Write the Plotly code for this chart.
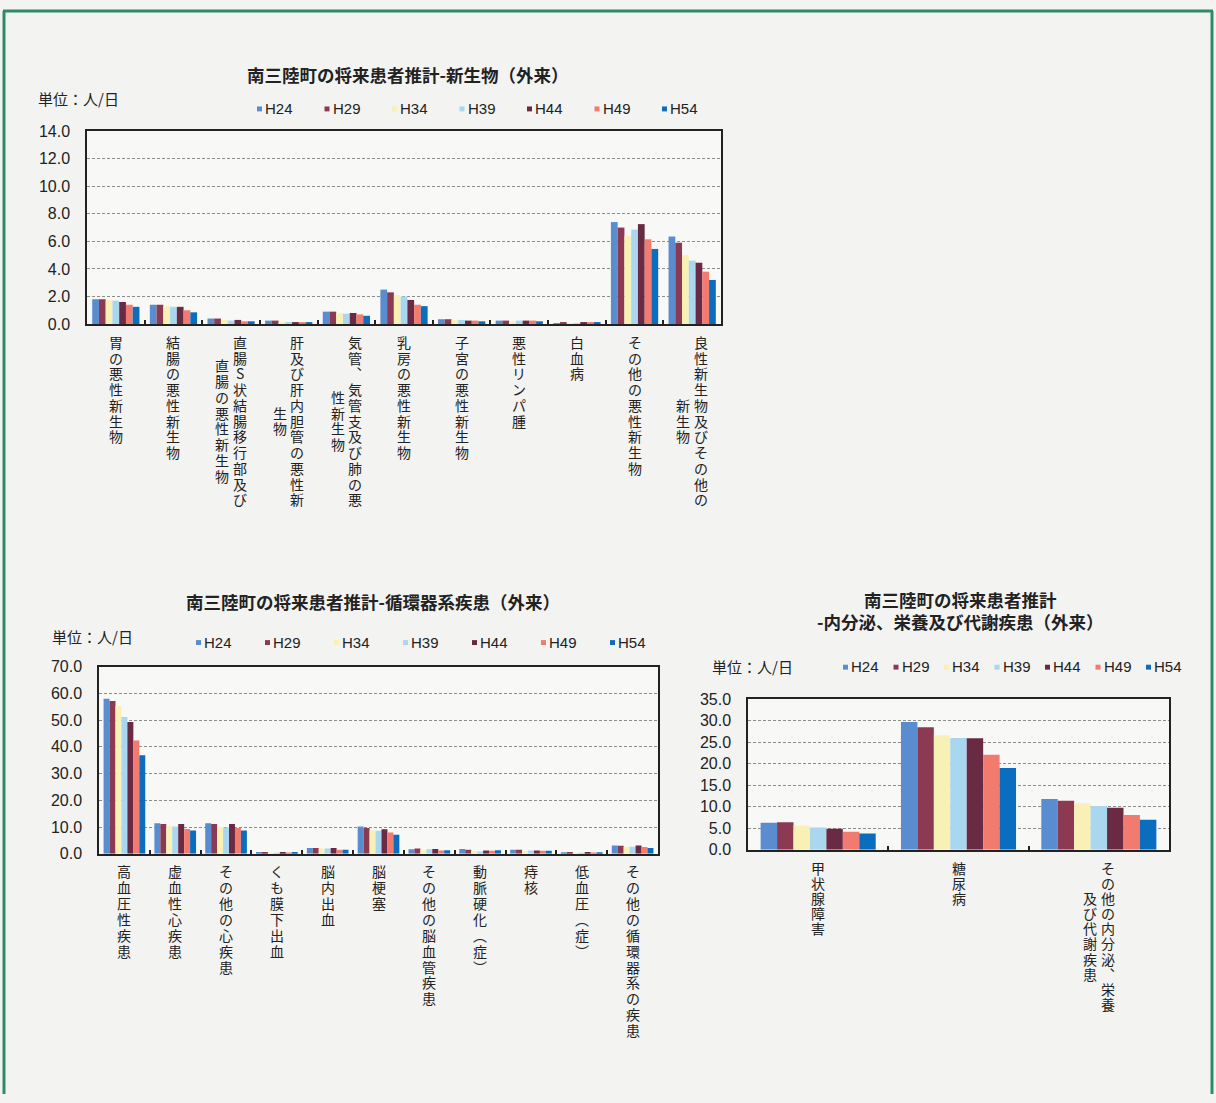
import plotly.graph_objects as go

# ---- data -------------------------------------------------------------
years = ["H24", "H29", "H34", "H39", "H44", "H49", "H54"]
colors = ["#5a8dd0", "#8c3a52", "#f9f0b6", "#a9d7f0", "#6a2a44", "#f27b70", "#0b6dbd"]

neo_cats = ["胃の悪性新生物", "結腸の悪性新生物", "直腸S状結腸移行部及び直腸の悪性新生物",
            "肝及び肝内胆管の悪性新生物", "気管、気管支及び肺の悪性新生物", "乳房の悪性新生物",
            "子宮の悪性新生物", "悪性リンパ腫", "白血病", "その他の悪性新生物",
            "良性新生物及びその他の新生物"]
neo_H24 = [1.80, 1.40, 0.40, 0.25, 0.90, 2.50, 0.35, 0.25, 0.05, 7.40, 6.35]
neo_H29 = [1.80, 1.40, 0.40, 0.25, 0.90, 2.30, 0.35, 0.25, 0.10, 7.00, 5.90]
neo_H34 = [1.75, 1.30, 0.30, 0.15, 0.80, 2.10, 0.30, 0.20, 0.05, 6.40, 5.00]
neo_H39 = [1.70, 1.25, 0.25, 0.15, 0.75, 2.00, 0.30, 0.25, 0.05, 6.85, 4.60]
neo_H44 = [1.60, 1.25, 0.30, 0.12, 0.80, 1.75, 0.25, 0.25, 0.10, 7.25, 4.45]
neo_H49 = [1.40, 1.00, 0.20, 0.08, 0.70, 1.40, 0.25, 0.25, 0.08, 6.15, 3.80]
neo_H54 = [1.25, 0.85, 0.20, 0.12, 0.60, 1.30, 0.20, 0.20, 0.10, 5.45, 3.20]

circ_cats = ["高血圧性疾患", "虚血性心疾患", "その他の心疾患", "くも膜下出血", "脳内出血",
             "脳梗塞", "その他の脳血管疾患", "動脈硬化（症）", "痔核", "低血圧（症）",
             "その他の循環器系の疾患"]
circ_H24 = [58.0, 11.4, 11.4, 0.7, 2.2, 10.2, 1.7, 1.8, 1.5, 0.6, 3.1]
circ_H29 = [57.2, 11.1, 11.1, 0.7, 2.2, 9.6, 2.0, 1.5, 1.5, 0.7, 3.0]
circ_H34 = [55.3, 10.3, 10.1, 0.3, 2.0, 8.7, 1.4, 1.0, 1.0, 0.3, 2.6]
circ_H39 = [51.2, 10.2, 9.8, 0.4, 2.0, 8.6, 1.7, 0.8, 1.2, 0.4, 2.6]
circ_H44 = [49.3, 11.1, 11.1, 0.7, 2.2, 9.2, 1.8, 1.2, 1.2, 0.7, 3.1]
circ_H49 = [42.4, 9.3, 9.6, 0.5, 1.5, 8.0, 1.2, 1.1, 1.1, 0.5, 2.5]
circ_H54 = [36.9, 8.7, 8.7, 0.7, 1.5, 7.1, 1.35, 1.35, 1.1, 0.6, 2.2]

endo_cats = ["甲状腺障害", "糖尿病", "その他の内分泌、栄養及び代謝疾患"]
endo_H24 = [6.3, 29.7, 11.8]
endo_H29 = [6.4, 28.5, 11.4]
endo_H34 = [5.6, 26.6, 10.8]
endo_H39 = [5.2, 26.0, 10.2]
endo_H44 = [4.9, 25.9, 9.8]
endo_H49 = [4.2, 22.1, 8.1]
endo_H54 = [3.8, 19.0, 7.0]

neo_series = [neo_H24, neo_H29, neo_H34, neo_H39, neo_H44, neo_H49, neo_H54]
circ_series = [circ_H24, circ_H29, circ_H34, circ_H39, circ_H44, circ_H49, circ_H54]
endo_series = [endo_H24, endo_H29, endo_H34, endo_H39, endo_H44, endo_H49, endo_H54]

# ---- page geometry (pixels) ------------------------------------------
W, H = 1216, 1103
JP = "Noto Sans CJK JP"
NUM = "Liberation Sans"
INK = "#222222"


def fx(x):
    return x / W


def fy(y):
    return 1 - y / H


# vertical-writing forms for punctuation in stacked labels
VERT = {"、": "︑", "（": "︵", "）": "︶"}

charts = [
    dict(cats=neo_cats, series=neo_series, box=(87, 125, 721, 321), ymax=14, dtick=2,
         wrap=11, pitch=16.0, title=["南三陸町の将来患者推計-新生物（外来）"], title_x=407,
         title_y=[68], unit=(36, 92), leg_x0=257, leg_dx=67.5, leg_y=102),
    dict(cats=circ_cats, series=circ_series, box=(99, 669, 658, 859), ymax=70, dtick=10,
         wrap=11, pitch=16.1, title=["南三陸町の将来患者推計-循環器系疾患（外来）"], title_x=373,
         title_y=[603], unit=(50, 638), leg_x0=196, leg_dx=69, leg_y=644),
    dict(cats=endo_cats, series=endo_series, box=(748, 702, 1169, 855), ymax=35, dtick=5,
         wrap=10, pitch=15.4, title=["南三陸町の将来患者推計", "-内分泌、栄養及び代謝疾患（外来）"],
         title_x=960, title_y=[601, 623], unit=(710, 669), leg_x0=843, leg_dx=50.5, leg_y=669),
]

fig = go.Figure()
annotations = []
shapes = []
LAB_FS = 14
COL_DX = 17.5
FIRST = 18  # axis line to centre of the first stacked glyph

for k, ch in enumerate(charts):
    sfx = "" if k == 0 else str(k + 1)
    xa, ya = "x" + sfx, "y" + sfx
    x0, y0, x1, y1 = ch["box"]
    ncat = len(ch["cats"])
    for name, vals, col in zip(years, ch["series"], colors):
        fig.add_trace(go.Bar(x=list(range(ncat)), y=vals, name=name,
                             marker=dict(color=col, line=dict(width=0)),
                             xaxis=xa, yaxis=ya, showlegend=False))
    axis_common = dict(showline=True, mirror=True, linecolor=INK, linewidth=1.5)
    fig.update_layout(**{
        "xaxis" + sfx: dict(domain=[fx(x0), fx(x1)], anchor=ya, type="linear",
                            range=[-0.5, ncat - 0.5], tickmode="array",
                            tickvals=[i + 0.5 for i in range(ncat - 1)],
                            ticks="inside", ticklen=4, tickwidth=1.5, tickcolor=INK,
                            showticklabels=False, showgrid=False, zeroline=False,
                            **axis_common),
        "yaxis" + sfx: dict(domain=[fy(y1), fy(y0)], anchor=xa, range=[0, ch["ymax"]],
                            dtick=ch["dtick"], tickformat=".1f", showgrid=True,
                            gridcolor="#8c8c8c", gridwidth=1, griddash="3px,2px",
                            zeroline=False, ticks="", ticklabelstandoff=12,
                            tickfont=dict(family=NUM, size=16, color=INK), **axis_common),
    })

    # stacked (vertical) category labels; columns read right to left and
    # shorter columns are centred against the longest one
    pitch = ch["pitch"]
    for i, name in enumerate(ch["cats"]):
        cols = [name[j:j + ch["wrap"]] for j in range(0, len(name), ch["wrap"])]
        m = max(len(c) for c in cols)
        n = len(cols)
        for j, c in enumerate(cols):
            start = y1 + FIRST + (m - len(c)) * pitch / 2
            for r, t in enumerate(c):
                annotations.append(dict(
                    x=i, xref=xa, y=fy(start + r * pitch), yref="paper",
                    xanchor="center", yanchor="middle",
                    xshift=(n - 1) / 2 * COL_DX - j * COL_DX,
                    text=VERT.get(t, t), showarrow=False, borderpad=0,
                    font=dict(family=JP, size=LAB_FS, color=INK)))

    # chart title
    for line, ty in zip(ch["title"], ch["title_y"]):
        annotations.append(dict(x=fx(ch["title_x"]), y=fy(ty), xref="paper", yref="paper",
                                xanchor="center", yanchor="middle", showarrow=False,
                                text="<b>" + line + "</b>",
                                font=dict(family=JP, size=17.5, color=INK)))
    # unit label
    ux, uy = ch["unit"]
    annotations.append(dict(x=fx(ux), y=fy(uy), xref="paper", yref="paper", xanchor="left",
                            yanchor="middle", showarrow=False, text="単位：人/日",
                            font=dict(family=JP, size=15, color=INK)))
    # series key: small square + year
    for s, (name, col) in enumerate(zip(years, colors)):
        lx = ch["leg_x0"] + s * ch["leg_dx"]
        ly = ch["leg_y"]
        shapes.append(dict(type="rect", xref="paper", yref="paper",
                           x0=fx(lx), x1=fx(lx + 5), y0=fy(ly + 3), y1=fy(ly - 2),
                           fillcolor=col, line=dict(width=0)))
        annotations.append(dict(x=fx(lx + 6), y=fy(ly), xref="paper", yref="paper",
                                xanchor="left", yanchor="middle", showarrow=False,
                                text=name, font=dict(family=NUM, size=15, color=INK)))

# green page frame
FRAME = "#2f8a68"
shapes += [
    dict(type="line", xref="paper", yref="paper", x0=fx(3), x1=fx(1213), y0=fy(3), y1=fy(3),
         line=dict(color=FRAME, width=3)),
    dict(type="line", xref="paper", yref="paper", x0=fx(4), x1=fx(4), y0=fy(3), y1=0,
         line=dict(color=FRAME, width=3)),
    dict(type="line", xref="paper", yref="paper", x0=fx(1212), x1=fx(1212), y0=fy(3), y1=0,
         line=dict(color=FRAME, width=3)),
]

fig.update_layout(
    width=W, height=H, margin=dict(l=0, r=0, t=0, b=0),
    paper_bgcolor="#f3f4f2", plot_bgcolor="#f8f8f7",
    barmode="group", bargap=0.18, bargroupgap=0.0,
    showlegend=False, annotations=annotations, shapes=shapes,
)

fig.write_html("out.html")
